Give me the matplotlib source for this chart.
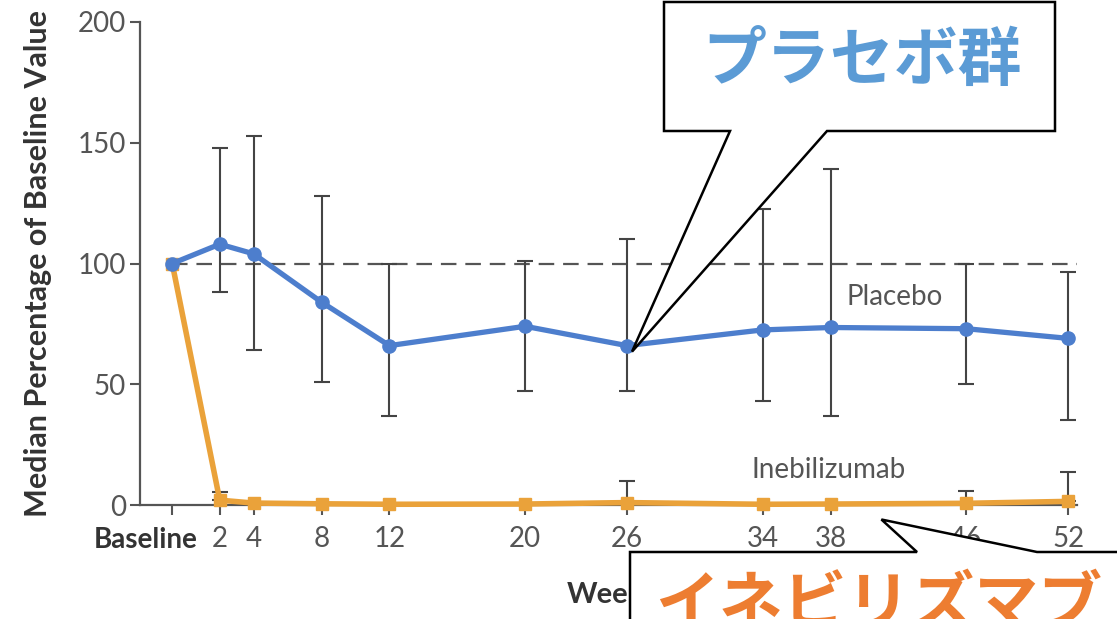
import matplotlib
matplotlib.use("Agg")
import matplotlib.pyplot as plt
from matplotlib.patches import Polygon

# Visit positions (Baseline sits just left of week 2) and tick labels
weeks = [-0.8, 2, 4, 8, 12, 20, 26, 34, 38, 46, 52]
tick_labels = ["Baseline", "2", "4", "8", "12", "20", "26", "34", "38", "46", "52"]

# Placebo: median % of baseline with IQR bounds
placebo_median = [100, 108, 104, 84, 66, 74, 66, 72.5, 73.5, 73, 69]
placebo_upper = [100, 148, 153, 128, 100, 101, 110, 122.5, 139, 100, 96.5]
placebo_lower = [100, 88, 64, 51, 37, 47, 47, 43, 37, 50, 35]

# Inebilizumab: median % of baseline with upper bound
ineb_median = [100, 2, 0.8, 0.5, 0.3, 0.4, 1.0, 0.3, 0.4, 0.7, 1.5]
ineb_upper = [100, 5.5, 0.8, 0.5, 0.3, 0.4, 10, 0.3, 0.4, 6, 13.5]

BLUE = "#4D7ECD"
ORANGE = "#EAA23A"
GRAY = "#555555"
DARK = "#333333"

plt.rcParams["font.family"] = ["Lato", "DejaVu Sans"]

W, H = 1117, 619
fig = plt.figure(figsize=(W / 100, H / 100), dpi=100)
ax = fig.add_axes([140 / W, 1 - 505 / H, 945 / W, 483 / H])

ax.set_xlim(-2.7, 53)
ax.set_ylim(0, 200)

# reference line at 100 %
ax.hlines(100, weeks[0], 52.5, colors=GRAY, linestyles=(0, (7, 4)), linewidth=1.6, zorder=1)

# placebo error bars
p_lo = [m - lo for m, lo in zip(placebo_median, placebo_lower)]
p_hi = [hi - m for m, hi in zip(placebo_median, placebo_upper)]
ax.errorbar(weeks[1:], placebo_median[1:], yerr=[p_lo[1:], p_hi[1:]], fmt="none",
            ecolor="#444444", elinewidth=1.5, capsize=6, capthick=1.5, zorder=2)

# inebilizumab error bars (upper only)
i_lo = [0] * len(ineb_median)
i_hi = [hi - m for m, hi in zip(ineb_median, ineb_upper)]
ax.errorbar(weeks[1:], ineb_median[1:], yerr=[i_lo[1:], i_hi[1:]], fmt="none",
            ecolor="#444444", elinewidth=1.5, capsize=6, capthick=1.5, zorder=2)

ax.plot(weeks, ineb_median, color=ORANGE, lw=4, marker="s", ms=9, zorder=3,
        clip_on=False)
ax.plot(weeks, placebo_median, color=BLUE, lw=3.8, marker="o", ms=9.5, zorder=4)

for s in ["top", "right"]:
    ax.spines[s].set_visible(False)
for s in ["left", "bottom"]:
    ax.spines[s].set_color(GRAY)
    ax.spines[s].set_linewidth(1.6)
ax.spines["bottom"].set_bounds(-2.7, 52.5)

ax.set_yticks([0, 50, 100, 150, 200])
ax.tick_params(axis="y", direction="out", length=7, width=1.5, color=GRAY,
               labelsize=20, labelcolor=GRAY, pad=3)
ax.set_xticks(weeks)
ax.set_xticklabels([""] + tick_labels[1:])
ax.tick_params(axis="x", direction="out", length=7, width=1.5, color=GRAY,
               labelsize=20, labelcolor=GRAY, pad=8)
# "Baseline" label sits right-aligned just left of the week-2 label
ax.annotate(tick_labels[0], xy=(weeks[0], 0), xycoords="data",
            xytext=(18, -25.5), textcoords="offset points", ha="right", va="center",
            fontsize=20, fontweight="bold", color=DARK, annotation_clip=False)

ax.set_ylabel("Median Percentage of Baseline Value", fontsize=22, fontweight="bold",
              color=DARK)
ax.yaxis.set_label_coords(-0.108, 0.5)
ax.yaxis.label.set_va("center")
ax.set_xlabel("Week", fontsize=21, fontweight="bold", color=DARK)
ax.xaxis.set_label_coords(0.492, -0.186)
ax.xaxis.label.set_va("center")

ax.text(41.8, 86, "Placebo", fontsize=20, color=GRAY, ha="center", va="center")
ax.text(37.9, 14.5, "Inebilizumab", fontsize=20, color=GRAY, ha="center", va="center")

# speech-bubble callouts
fig.canvas.draw()


def fpx(x, y):
    return (x / W, 1 - y / H)


def data_to_fig(x, y):
    return tuple(fig.transFigure.inverted().transform(ax.transData.transform((x, y))))


tip_p = data_to_fig(26.3, 63.5)
top_poly = [fpx(664, 2), fpx(1055, 2), fpx(1055, 131), fpx(827, 131), tip_p,
            fpx(730, 131), fpx(664, 131)]
fig.patches.append(Polygon(top_poly, closed=True, facecolor="white", edgecolor="black",
                           linewidth=1.8, transform=fig.transFigure, zorder=10))
fig.text(*fpx(862, 62), "プラセボ群", fontsize=46, fontweight="bold", color="#5B9BD5",
         family=["Noto Sans CJK JP"], ha="center", va="center", zorder=11)

tip_i = data_to_fig(41, -6)
bot_poly = [fpx(630, 552), fpx(917, 552), tip_i, fpx(1037, 552), fpx(1125, 552),
            fpx(1125, 630), fpx(630, 630)]
fig.patches.append(Polygon(bot_poly, closed=True, facecolor="white", edgecolor="black",
                           linewidth=1.8, transform=fig.transFigure, zorder=10))
fig.text(*fpx(655, 605), "イネビリズマブ", fontsize=46, fontweight="bold", color="#ED7D31",
         family=["Noto Sans CJK JP"], ha="left", va="center", zorder=11)

fig.savefig("out.png", dpi=100)
